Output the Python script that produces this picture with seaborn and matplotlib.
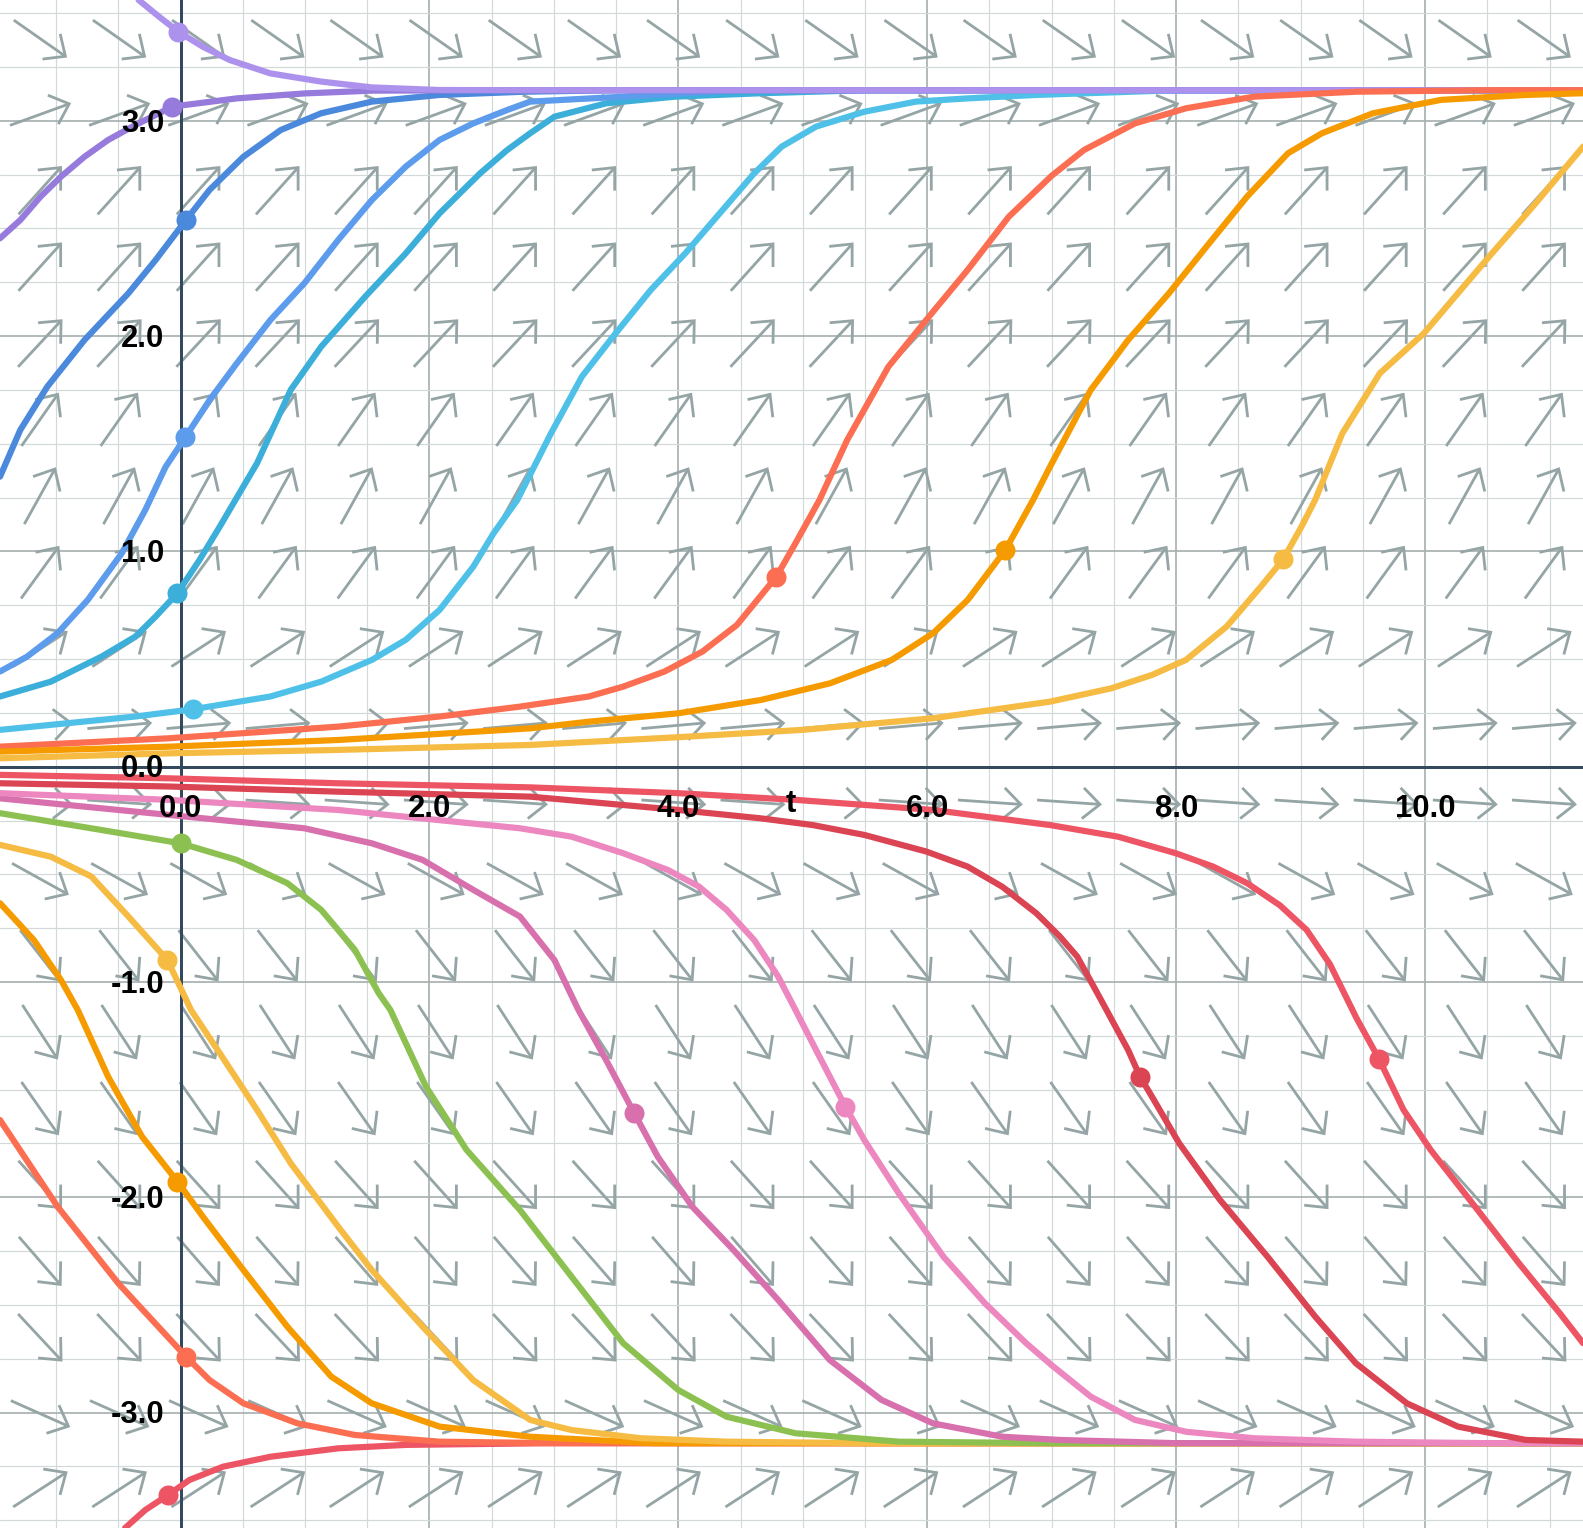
import numpy as np
import matplotlib
matplotlib.use("Agg")
import matplotlib.pyplot as plt
from matplotlib.collections import LineCollection
from matplotlib.ticker import MultipleLocator
import seaborn as sns

# --- visible window of the slope field ---
T_MIN, T_MAX = -1.451, 11.269
Y_MIN, Y_MAX = -3.536, 3.561
W_PX, H_PX, DPI = 1583, 1528, 100

# slope of the field arrows per row (bottom row first), 20 columns
row_slopes = [0.375, -0.257, -0.620, -0.665, -0.642, -0.825, -0.890, -0.740, -0.320, -0.040,
              0.051, 0.375, 0.796, 1.043, 0.825, 0.620, 0.642, 0.642, 0.210, -0.405]
n_cols = 20

x_labels = [0.0, 2.0, 4.0, 6.0, 8.0, 10.0]
y_labels = [-3.0, -2.0, -1.0, 0.0, 1.0, 2.0, 3.0]

# --- solution curves ---
lav_light_t = [-0.337, -0.174, -0.019, 0.179, 0.396, 0.722, 1.130, 1.537, 2.081, 3.0, 11.27]
lav_light_y = [3.561, 3.484, 3.414, 3.344, 3.282, 3.220, 3.182, 3.155, 3.143, 3.142, 3.142]

lav_dark_t = [-1.451, -1.288, -1.125, -0.962, -0.772, -0.582, -0.364, -0.065, 0.179, 0.451, 0.994, 1.537, 2.5, 11.27]
lav_dark_y = [2.454, 2.539, 2.648, 2.740, 2.833, 2.911, 2.980, 3.066, 3.084, 3.104, 3.127, 3.140, 3.142, 3.142]

blue_t = [-1.451, -1.288, -1.071, -0.772, -0.419, -0.201, 0.043, 0.233, 0.505, 0.804, 1.130, 1.537, 2.081, 2.760, 3.5, 11.27]
blue_y = [1.347, 1.564, 1.765, 1.982, 2.199, 2.353, 2.539, 2.679, 2.833, 2.957, 3.035, 3.089, 3.120, 3.135, 3.142, 3.142]

jeans_t = [-1.451, -1.234, -0.989, -0.745, -0.473, -0.283, -0.120, 0.038, 0.233, 0.451, 0.722, 0.994, 1.266,
           1.537, 1.809, 2.081, 2.352, 2.624, 2.809, 3.557, 4.5, 11.27]
jeans_y = [0.442, 0.511, 0.620, 0.775, 0.991, 1.193, 1.393, 1.530, 1.703, 1.873, 2.075, 2.245, 2.446,
           2.632, 2.787, 2.911, 2.988, 3.050, 3.089, 3.112, 3.142, 3.142]

teal_t = [-1.451, -1.043, -0.636, -0.364, -0.201, -0.025, 0.152, 0.315, 0.396, 0.614, 0.885, 1.130, 1.483,
          1.809, 2.081, 2.407, 2.624, 2.809, 3.004, 3.419, 3.972, 4.664, 5.5, 11.27]
teal_y = [0.326, 0.395, 0.511, 0.604, 0.697, 0.806, 0.960, 1.115, 1.195, 1.409, 1.750, 1.951, 2.183,
          2.384, 2.570, 2.756, 2.864, 2.942, 3.019, 3.081, 3.112, 3.128, 3.142, 3.142]

sky_t = [-1.451, -0.908, -0.364, 0.103, 0.722, 1.130, 1.537, 1.809, 2.081, 2.352, 2.515, 2.706, 2.976, 3.225,
         3.474, 3.778, 4.055, 4.332, 4.609, 4.830, 5.107, 5.494, 5.909, 6.324, 6.877, 8.0, 11.27]
sky_y = [0.171, 0.202, 0.233, 0.267, 0.326, 0.395, 0.496, 0.589, 0.728, 0.929, 1.084, 1.239, 1.548, 1.812,
         1.997, 2.214, 2.384, 2.570, 2.756, 2.880, 2.973, 3.042, 3.089, 3.104, 3.120, 3.142, 3.142]

coral_t = [-1.451, -0.093, 1.266, 2.081, 2.727, 3.280, 3.557, 3.889, 4.194, 4.470, 4.788, 4.941, 5.134, 5.356,
           5.688, 5.992, 6.324, 6.656, 7.0, 7.259, 7.669, 8.079, 8.625, 9.444, 10.5, 11.27]
coral_y = [0.093, 0.132, 0.186, 0.233, 0.279, 0.326, 0.372, 0.442, 0.535, 0.658, 0.883, 1.038, 1.239, 1.517,
           1.858, 2.075, 2.307, 2.555, 2.745, 2.864, 2.988, 3.058, 3.112, 3.135, 3.142, 3.142]

orange_t = [-1.451, -0.093, 1.266, 2.809, 3.280, 3.999, 4.664, 5.217, 5.715, 6.047, 6.324, 6.628, 6.850, 6.986,
            7.314, 7.614, 7.942, 8.243, 8.570, 8.898, 9.171, 9.581, 10.127, 10.810, 11.27]
orange_y = [0.070, 0.093, 0.124, 0.178, 0.209, 0.248, 0.310, 0.387, 0.496, 0.620, 0.774, 1.007, 1.239, 1.393,
            1.750, 1.982, 2.199, 2.415, 2.648, 2.849, 2.942, 3.035, 3.097, 3.120, 3.128]

sun_t = [-1.451, -0.093, 1.266, 2.809, 3.999, 4.996, 6.047, 6.986, 7.478, 7.805, 8.079, 8.406, 8.680, 8.860,
         9.007, 9.117, 9.335, 9.636, 9.991, 10.264, 10.537, 10.865, 11.27]
sun_y = [0.039, 0.062, 0.078, 0.101, 0.137, 0.171, 0.225, 0.302, 0.364, 0.426, 0.496, 0.651, 0.836, 0.963,
         1.115, 1.239, 1.548, 1.827, 2.013, 2.199, 2.384, 2.601, 2.880]

red_t = [-1.451, -0.093, 1.266, 2.809, 3.999, 4.941, 6.047, 6.986, 7.532, 7.997, 8.297, 8.570, 8.834, 9.048,
         9.236, 9.450, 9.630, 9.827, 10.045, 10.401, 10.755, 11.083, 11.27]
red_y = [-0.038, -0.054, -0.077, -0.096, -0.123, -0.154, -0.201, -0.271, -0.325, -0.402, -0.464, -0.541, -0.644,
         -0.758, -0.918, -1.169, -1.358, -1.594, -1.780, -2.043, -2.307, -2.539, -2.678]

dkred_t = [-1.451, -0.093, 1.266, 2.809, 3.999, 4.664, 5.079, 5.494, 5.992, 6.324, 6.601, 6.877, 7.066, 7.205,
           7.396, 7.614, 7.710, 7.806, 8.024, 8.352, 8.734, 9.117, 9.444, 9.854, 10.264, 10.810, 11.27]
dkred_y = [-0.077, -0.092, -0.116, -0.139, -0.201, -0.240, -0.271, -0.317, -0.394, -0.464, -0.557, -0.681, -0.789,
           -0.882, -1.083, -1.316, -1.440, -1.533, -1.749, -2.012, -2.276, -2.554, -2.771, -2.957, -3.065, -3.127, -3.135]

pink_t = [-1.451, -0.093, 1.266, 2.727, 3.142, 3.557, 3.917, 4.166, 4.387, 4.609, 4.802, 4.941, 5.134, 5.342,
          5.494, 5.771, 6.130, 6.463, 6.795, 7.0, 7.314, 7.669, 8.079, 8.625, 9.444, 10.5, 11.27]
pink_y = [-0.123, -0.154, -0.201, -0.286, -0.325, -0.402, -0.480, -0.557, -0.665, -0.805, -0.975, -1.130, -1.347,
          -1.579, -1.734, -1.982, -2.276, -2.492, -2.678, -2.780, -2.926, -3.034, -3.089, -3.119, -3.135, -3.142, -3.142]

magenta_t = [-1.451, -0.093, 0.994, 1.537, 1.945, 2.352, 2.727, 3.004, 3.197, 3.419, 3.646, 3.834, 4.111, 4.443,
             4.802, 5.217, 5.632, 6.047, 6.601, 7.066, 8.0, 11.27]
magenta_y = [-0.147, -0.224, -0.286, -0.356, -0.433, -0.572, -0.696, -0.898, -1.130, -1.362, -1.610, -1.811, -2.043,
             -2.245, -2.477, -2.756, -2.941, -3.050, -3.112, -3.127, -3.142, -3.142]

grass_t = [-1.451, -0.636, 0.002, 0.451, 0.858, 1.130, 1.401, 1.592, 1.686, 1.972, 2.298, 2.727, 3.142, 3.557,
           3.999, 4.387, 4.941, 5.771, 7.0, 11.27]
grass_y = [-0.216, -0.294, -0.356, -0.433, -0.541, -0.665, -0.851, -1.052, -1.130, -1.486, -1.780, -2.059, -2.369,
           -2.678, -2.895, -3.019, -3.096, -3.135, -3.142, -3.142]

sun_low_t = [-1.451, -1.043, -0.717, -0.419, -0.106, 0.084, 0.315, 0.614, 0.885, 1.266, 1.537, 1.945, 2.352,
             2.809, 3.142, 3.695, 4.387, 5.5, 11.27]
sun_low_y = [-0.363, -0.418, -0.510, -0.696, -0.898, -1.130, -1.331, -1.594, -1.842, -2.136, -2.338, -2.601, -2.849,
             -3.034, -3.081, -3.119, -3.135, -3.142, -3.142]

orange_low_t = [-1.451, -1.179, -0.962, -0.826, -0.582, -0.310, -0.025, 0.179, 0.505, 0.858, 1.211, 1.537, 2.081,
                2.809, 3.8, 11.27]
orange_low_y = [-0.634, -0.805, -0.990, -1.130, -1.440, -1.718, -1.927, -2.090, -2.338, -2.601, -2.833, -2.957,
                -3.065, -3.112, -3.142, -3.142]

coral_low_t = [-1.451, -0.989, -0.500, 0.043, 0.233, 0.505, 0.940, 1.401, 2.081, 3.0, 11.27]
coral_low_y = [-1.641, -2.043, -2.400, -2.740, -2.849, -2.957, -3.050, -3.104, -3.135, -3.142, -3.142]

red_low_t = [-0.446, -0.283, -0.101, 0.071, 0.342, 0.722, 1.266, 1.809, 3.0, 11.27]
red_low_y = [-3.536, -3.452, -3.383, -3.313, -3.251, -3.205, -3.166, -3.150, -3.142, -3.142]

# initial-condition dots, same order as the curves list below
dot_t = [-0.025, 0.038, 0.043, 0.103, -0.065, -0.019, 4.788, 6.628, 8.860,
         -0.101, 0.043, -0.025, -0.106, 0.002, 3.646, 5.342, 7.710, 9.630]
dot_y = [0.806, 1.530, 2.539, 0.267, 3.066, 3.414, 0.883, 1.007, 0.963,
         -3.383, -2.740, -1.927, -0.898, -0.356, -1.610, -1.579, -1.440, -1.358]

curves = [
    (teal_t, teal_y, "#3BAFDA"),
    (jeans_t, jeans_y, "#5D9CEC"),
    (blue_t, blue_y, "#4A89DC"),
    (sky_t, sky_y, "#4FC1E9"),
    (lav_dark_t, lav_dark_y, "#967ADC"),
    (lav_light_t, lav_light_y, "#AC92EC"),
    (coral_t, coral_y, "#FC6E51"),
    (orange_t, orange_y, "#F59B00"),
    (sun_t, sun_y, "#F6BB42"),
    (red_low_t, red_low_y, "#ED5565"),
    (coral_low_t, coral_low_y, "#FC6E51"),
    (orange_low_t, orange_low_y, "#F59B00"),
    (sun_low_t, sun_low_y, "#F6BB42"),
    (grass_t, grass_y, "#8CC152"),
    (magenta_t, magenta_y, "#D770AD"),
    (pink_t, pink_y, "#EC87C0"),
    (dkred_t, dkred_y, "#DA4453"),
    (red_t, red_y, "#ED5565"),
]

sns.set_theme(style="white")
plt.rcParams["font.family"] = ["Liberation Sans", "DejaVu Sans"]

PT = 72.0 / DPI  # points per pixel
AXIS_COL = "#34495e"
ARROW_COL = "#95a5a6"

fig = plt.figure(figsize=(W_PX / DPI, H_PX / DPI), dpi=DPI)
ax = fig.add_axes([0, 0, 1, 1])
ax.set_xlim(T_MIN, T_MAX)
ax.set_ylim(Y_MIN, Y_MAX)

# grid + axes through the origin
ax.xaxis.set_major_locator(MultipleLocator(2.0))
ax.xaxis.set_minor_locator(MultipleLocator(0.5))
ax.yaxis.set_major_locator(MultipleLocator(1.0))
ax.yaxis.set_minor_locator(MultipleLocator(0.25))
ax.set_axisbelow(True)
ax.grid(which="major", color="#a6b0b0", linewidth=1.7 * PT)
ax.grid(which="minor", color="#d3d9d9", linewidth=1.2 * PT)
for side in ["top", "right"]:
    ax.spines[side].set_visible(False)
for side in ["left", "bottom"]:
    ax.spines[side].set_position(("data", 0))
    ax.spines[side].set_color(AXIS_COL)
    ax.spines[side].set_linewidth(3 * PT)
ax.tick_params(which="both", direction="out", color=AXIS_COL, width=2.4 * PT,
               labelbottom=False, labelleft=False)
ax.tick_params(axis="x", which="both", length=7 * PT)
ax.tick_params(axis="y", which="both", length=10 * PT)

# slope field arrows (fixed screen length, centred in a 20x20 grid)
px_t = W_PX / (T_MAX - T_MIN)
px_y = H_PX / (Y_MAX - Y_MIN)
cell_t = (T_MAX - T_MIN) / n_cols
cell_y = (Y_MAX - Y_MIN) / len(row_slopes)
shaft, head, spread = 63.0, 23.0, np.radians(42)
shafts, heads = [], []
for j, m in enumerate(row_slopes):
    ang = np.arctan2(m * px_y, px_t)
    ux, uy = np.cos(ang), np.sin(ang)
    yc = (Y_MIN + (j + 0.5) * cell_y) * px_y
    for i in range(n_cols):
        tc = (T_MIN + (i + 0.5) * cell_t) * px_t
        tail = (tc - shaft / 2 * ux, yc - shaft / 2 * uy)
        tip = (tc + shaft / 2 * ux, yc + shaft / 2 * uy)
        h1 = (tip[0] - head * np.cos(ang - spread), tip[1] - head * np.sin(ang - spread))
        h2 = (tip[0] - head * np.cos(ang + spread), tip[1] - head * np.sin(ang + spread))
        shafts.append([(p[0] / px_t, p[1] / px_y) for p in (tail, tip)])
        heads.append([(p[0] / px_t, p[1] / px_y) for p in (h1, tip, h2)])
ax.add_collection(LineCollection(shafts, colors=ARROW_COL, linewidths=2.8 * PT, capstyle="butt", zorder=1))
ax.add_collection(LineCollection(heads, colors=ARROW_COL, linewidths=2.8 * PT, capstyle="butt",
                                 joinstyle="miter", zorder=1))

# solution curves
for t, y, col in curves:
    sns.lineplot(x=t, y=y, ax=ax, color=col, linewidth=6.2 * PT, sort=False, estimator=None,
                 solid_capstyle="round", solid_joinstyle="round", zorder=3, legend=False)
for (t, y, col), dt, dy in zip(curves, dot_t, dot_y):
    ax.plot([dt], [dy], "o", color=col, markersize=20 * PT, markeredgewidth=0, zorder=4)

# tick labels
lab = dict(fontsize=31 * PT, fontweight="bold", color="black", zorder=6,
           textcoords="offset points", annotation_clip=False)
for v in x_labels:
    ax.annotate(f"{v:.1f}", xy=(v, 0), xytext=(0, -50 * PT), ha="center", va="baseline", **lab)
for v in y_labels:
    ax.annotate(f"{v:.1f}", xy=(0, v), xytext=(-16.5 * PT, -10.8 * PT), ha="right", va="baseline", **lab)
ax.annotate("t", xy=(4.907, 0), xytext=(0, -45 * PT), ha="center", va="baseline", **lab)

ax.set_xlabel("")
ax.set_ylabel("")
fig.savefig("out.png", dpi=DPI)
